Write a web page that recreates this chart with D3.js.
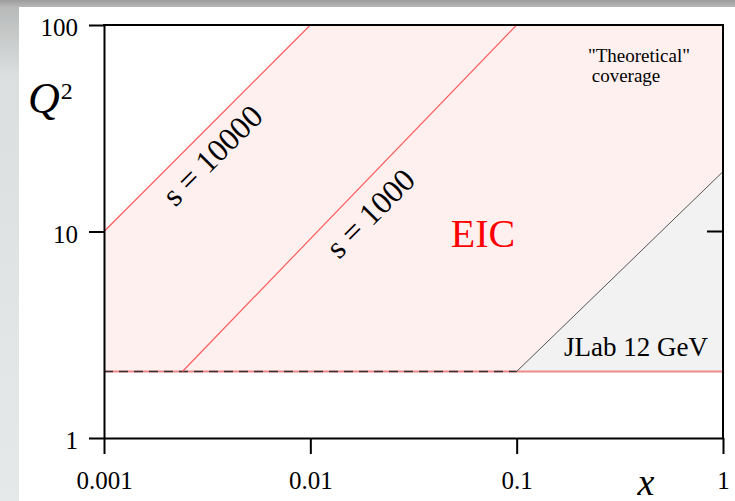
<!DOCTYPE html>
<html>
<head>
<meta charset="utf-8">
<script src="https://cdn.jsdelivr.net/npm/d3@7"></script>
<style>
  html, body { margin: 0; padding: 0; background: #fff; }
  svg { display: block; }
  text { font-family: "Liberation Serif", "Times New Roman", serif; }
</style>
</head>
<body>
<svg id="chart" width="735" height="501"></svg>
<script>
// Kinematic coverage in the (x, Q^2) plane
const xTicks = [0.001, 0.01, 0.1, 1];
const xTickLabels = ["0.001", "0.01", "0.1", "1"];
const yTicks = [1, 10, 100];
const yTickLabels = ["1", "10", "100"];

const qMin = 2.1;                                   // lower Q^2 cut
const s10000Line = [[0.001, 10], [0.01, 100]];      // s = 10000 boundary
const s1000Line = [[0.0024, 2.1], [0.1, 100]];      // s = 1000 boundary
const eicRegion = [[0.001, 2.1], [0.001, 10], [0.01, 100], [1, 100], [1, 2.1]];
const jlabRegion = [[0.1, 2.1], [1, 19.5], [1, 2.1]];
const jlabEdge = [[0.1, 2.1], [1, 19.5]];

const svg = d3.select("#chart");

// frame decoration around the white panel
const defs = svg.append("defs");
const gTop = defs.append("linearGradient").attr("id", "topBar").attr("x1", 0).attr("x2", 0).attr("y1", 0).attr("y2", 1);
gTop.append("stop").attr("offset", "0%").attr("stop-color", "#9c9c9c");
gTop.append("stop").attr("offset", "100%").attr("stop-color", "#b8b8b8");
const gLeft = defs.append("linearGradient").attr("id", "leftBar").attr("x1", 0).attr("x2", 0).attr("y1", 0).attr("y2", 1);
gLeft.append("stop").attr("offset", "0%").attr("stop-color", "#b4b6b6");
gLeft.append("stop").attr("offset", "15%").attr("stop-color", "#dcdfdf");
gLeft.append("stop").attr("offset", "100%").attr("stop-color", "#e5e9e9");
svg.append("rect").attr("x", 0).attr("y", 0).attr("width", 19).attr("height", 501).attr("fill", "url(#leftBar)");
svg.append("rect").attr("x", 0).attr("y", 0).attr("width", 735).attr("height", 7).attr("fill", "url(#topBar)");

const x = d3.scaleLog().domain([0.001, 1]).range([104, 723]);
const y = d3.scaleLog().domain([1, 100]).range([438, 25]);

const line = d3.line().x(d => x(d[0])).y(d => y(d[1]));
const area = d => line(d) + "Z";

// shaded regions
svg.append("path").attr("d", area(eicRegion)).attr("fill", "#fff0f0");
svg.append("path").attr("d", area(jlabRegion)).attr("fill", "#f2f2f2");

// lower Q^2 cut: red base with dashed overlay over the EIC-only part
svg.append("path").attr("d", line([[0.001, qMin], [1, qMin]]))
  .attr("stroke", "#f08a8a").attr("stroke-width", 2).attr("fill", "none");
svg.append("path").attr("d", line([[0.001, qMin], [0.1, qMin]]))
  .attr("stroke", "#333").attr("stroke-width", 1.5).attr("stroke-dasharray", "9,6").attr("fill", "none");

// beam energy limits
[s10000Line, s1000Line].forEach(l => {
  svg.append("path").attr("d", line(l)).attr("stroke", "#ff5c5c").attr("stroke-width", 1.2).attr("fill", "none");
});
svg.append("path").attr("d", line(jlabEdge)).attr("stroke", "#555").attr("stroke-width", 1).attr("fill", "none");

// axes
const axisFont = g => g.selectAll("text").attr("font-family", "Liberation Serif, Times New Roman, serif")
  .attr("font-size", 25).attr("fill", "#000");

const yAxis = svg.append("g").attr("transform", `translate(${x(0.001)},0)`)
  .call(d3.axisLeft(y).tickValues(yTicks).tickFormat((d, i) => yTickLabels[i]).tickSize(15).tickSizeOuter(0).tickPadding(11));
yAxis.call(axisFont);
yAxis.selectAll("text").attr("dy", "0.42em");

const xAxis = svg.append("g").attr("transform", `translate(0,${y(1)})`)
  .call(d3.axisBottom(x).tickValues(xTicks).tickFormat((d, i) => xTickLabels[i]).tickSize(16).tickSizeOuter(0).tickPadding(17));
xAxis.call(axisFont);

[yAxis, xAxis].forEach(g => {
  g.select(".domain").attr("stroke", "#000").attr("stroke-width", 2);
  g.selectAll(".tick line").attr("stroke", "#000").attr("stroke-width", 2);
});

// top and right frame lines
svg.append("line").attr("x1", x(0.001) - 1).attr("x2", x(1) + 1).attr("y1", y(100)).attr("y2", y(100))
  .attr("stroke", "#000").attr("stroke-width", 2);
svg.append("line").attr("x1", x(1)).attr("x2", x(1)).attr("y1", y(100)).attr("y2", y(1))
  .attr("stroke", "#000").attr("stroke-width", 2);
svg.append("line").attr("x1", x(1) - 16).attr("x2", x(1)).attr("y1", y(10)).attr("y2", y(10))
  .attr("stroke", "#000").attr("stroke-width", 2);

// axis titles
const qLabel = svg.append("text").attr("x", 28).attr("y", 113).attr("font-size", 44).attr("fill", "#000");
qLabel.append("tspan").attr("font-style", "italic").text("Q");
qLabel.append("tspan").attr("font-size", 24).attr("dx", 1).attr("dy", -14).text("2");

svg.append("text").attr("x", 646).attr("y", 495).attr("text-anchor", "middle")
  .attr("font-size", 38).attr("font-style", "italic").attr("fill", "#000").text("x");

// annotations
svg.append("text").attr("transform", "translate(220,163) rotate(-45)").attr("text-anchor", "middle")
  .attr("font-size", 32).attr("fill", "#000").text("s = 10000");
svg.append("text").attr("transform", "translate(378,221) rotate(-45)").attr("text-anchor", "middle")
  .attr("font-size", 32).attr("fill", "#000").text("s = 1000");

svg.append("text").attr("x", 483).attr("y", 247).attr("text-anchor", "middle")
  .attr("font-size", 40).attr("fill", "#ff0000").text("EIC");

svg.append("text").attr("x", 639).attr("y", 62).attr("text-anchor", "middle")
  .attr("font-size", 19).attr("fill", "#000").text("\"Theoretical\"");
svg.append("text").attr("x", 626).attr("y", 82).attr("text-anchor", "middle")
  .attr("font-size", 19).attr("fill", "#000").text("coverage");

svg.append("text").attr("x", 636).attr("y", 356).attr("text-anchor", "middle")
  .attr("font-size", 27).attr("fill", "#000").text("JLab 12 GeV");
</script>
</body>
</html>
